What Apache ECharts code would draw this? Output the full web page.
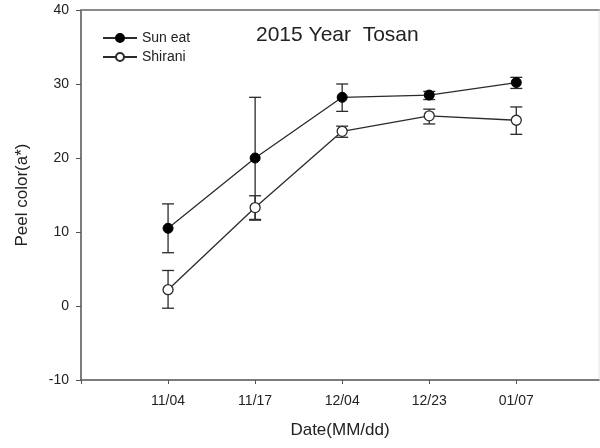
<!DOCTYPE html>
<html>
<head>
<meta charset="utf-8">
<script src="https://cdn.jsdelivr.net/npm/echarts@6/dist/echarts.min.js"></script>
<style>
  html, body { margin: 0; padding: 0; background: #fff; }
  #chart { width: 600px; height: 448px; }
</style>
</head>
<body>
<div id="chart"></div>
<script>
// --- Data ---
const dates = ['11/04', '11/17', '12/04', '12/23', '01/07'];
const xPos = [1, 2, 3, 4, 5];

const sunEatMean = [10.5, 20.0, 28.2, 28.5, 30.2];
const sunEatUpper = [13.8, 28.2, 30.0, 29.0, 30.9];
const sunEatLower = [7.2, 11.6, 26.3, 27.9, 29.4];

const shiraniMean = [2.2, 13.3, 23.6, 25.7, 25.1];
const shiraniUpper = [4.8, 14.9, 24.3, 26.6, 26.9];
const shiraniLower = [-0.3, 11.7, 22.8, 24.6, 23.2];

const yTicks = [-10, 0, 10, 20, 30, 40];

const INK = '#2b2b2b';
const FONT = 'Liberation Sans, Arial, sans-serif';

function points(means) {
  return xPos.map((x, i) => [x, means[i]]);
}

function errorData(lower, upper) {
  return xPos.map((x, i) => [x, lower[i], upper[i]]);
}

// error bars with caps
function renderErrorBar(params, api) {
  const x = api.value(0);
  const lo = api.coord([x, api.value(1)]);
  const hi = api.coord([x, api.value(2)]);
  const half = 6;
  const style = { stroke: INK, lineWidth: 1.3 };
  return {
    type: 'group',
    children: [
      { type: 'line', shape: { x1: lo[0], y1: lo[1], x2: hi[0], y2: hi[1] }, style },
      { type: 'line', shape: { x1: hi[0] - half, y1: hi[1], x2: hi[0] + half, y2: hi[1] }, style },
      { type: 'line', shape: { x1: lo[0] - half, y1: lo[1], x2: lo[0] + half, y2: lo[1] }, style },
    ],
  };
}

const chart = echarts.init(document.getElementById('chart'), null, { renderer: 'canvas' });

chart.setOption({
  backgroundColor: '#fff',
  animation: false,
  textStyle: { fontFamily: FONT },
  title: {
    text: '2015 Year  Tosan',
    left: 251,
    top: 20,
    textStyle: { color: '#222', fontSize: 21, fontWeight: 'normal', fontFamily: FONT },
  },
  legend: {
    orient: 'vertical',
    left: 97,
    top: 26,
    itemWidth: 34,
    itemHeight: 10,
    itemGap: 5,
    data: ['Sun eat', 'Shirani'],
    textStyle: { color: '#222', fontSize: 14, fontFamily: FONT },
  },
  grid: {
    left: 81,
    right: 1,
    top: 10,
    bottom: 68,
    show: true,
    borderColor: '#e2e2e2',
    borderWidth: 1,
  },
  xAxis: [
    {
      type: 'value',
      min: 0,
      max: 5.95,
      interval: 1,
      name: 'Date(MM/dd)',
      nameLocation: 'middle',
      nameGap: 42,
      nameTextStyle: { color: '#222', fontSize: 17, fontFamily: FONT },
      axisLine: { onZero: false, lineStyle: { color: '#555', width: 1.5 } },
      axisTick: { show: true, length: 4, inside: false, lineStyle: { color: '#555' } },
      axisLabel: {
        color: '#222',
        fontSize: 14,
        margin: 14,
        showMaxLabel: false,
        formatter: v => {
          const i = xPos.indexOf(v);
          return i >= 0 ? dates[i] : '';
        },
      },
      splitLine: { show: false },
    },
    {
      type: 'value',
      position: 'top',
      min: 0,
      max: 5.95,
      axisLine: { show: true, onZero: false, lineStyle: { color: '#8a8a8a', width: 2 } },
      axisTick: { show: false },
      axisLabel: { show: false },
      splitLine: { show: false },
    },
  ],
  yAxis: {
    type: 'value',
    min: yTicks[0],
    max: yTicks[yTicks.length - 1],
    interval: 10,
    name: 'Peel color(a*)',
    nameLocation: 'middle',
    nameGap: 50,
    nameRotate: 90,
    nameTextStyle: { color: '#222', fontSize: 17, fontFamily: FONT },
    axisLine: { show: true, onZero: false, lineStyle: { color: '#555', width: 1.5 } },
    axisTick: { show: true, length: 5, inside: false, lineStyle: { color: '#555' } },
    axisLabel: { color: '#222', fontSize: 14, margin: 12 },
    splitLine: { show: false },
  },
  series: [
    {
      name: 'Sun eat',
      type: 'line',
      data: points(sunEatMean),
      symbol: 'circle',
      symbolSize: 10,
      z: 5,
      lineStyle: { color: INK, width: 1.3 },
      itemStyle: { color: '#000', borderColor: '#000', borderWidth: 1 },
    },
    {
      name: 'Shirani',
      type: 'line',
      data: points(shiraniMean),
      symbol: 'circle',
      symbolSize: 10,
      z: 5,
      lineStyle: { color: INK, width: 1.3 },
      itemStyle: { color: '#fff', borderColor: INK, borderWidth: 1.3 },
    },
    {
      type: 'custom',
      renderItem: renderErrorBar,
      data: errorData(sunEatLower, sunEatUpper),
      z: 3,
      silent: true,
    },
    {
      type: 'custom',
      renderItem: renderErrorBar,
      data: errorData(shiraniLower, shiraniUpper),
      z: 3,
      silent: true,
    },
  ],
});

window.addEventListener('resize', () => chart.resize());
</script>
</body>
</html>
